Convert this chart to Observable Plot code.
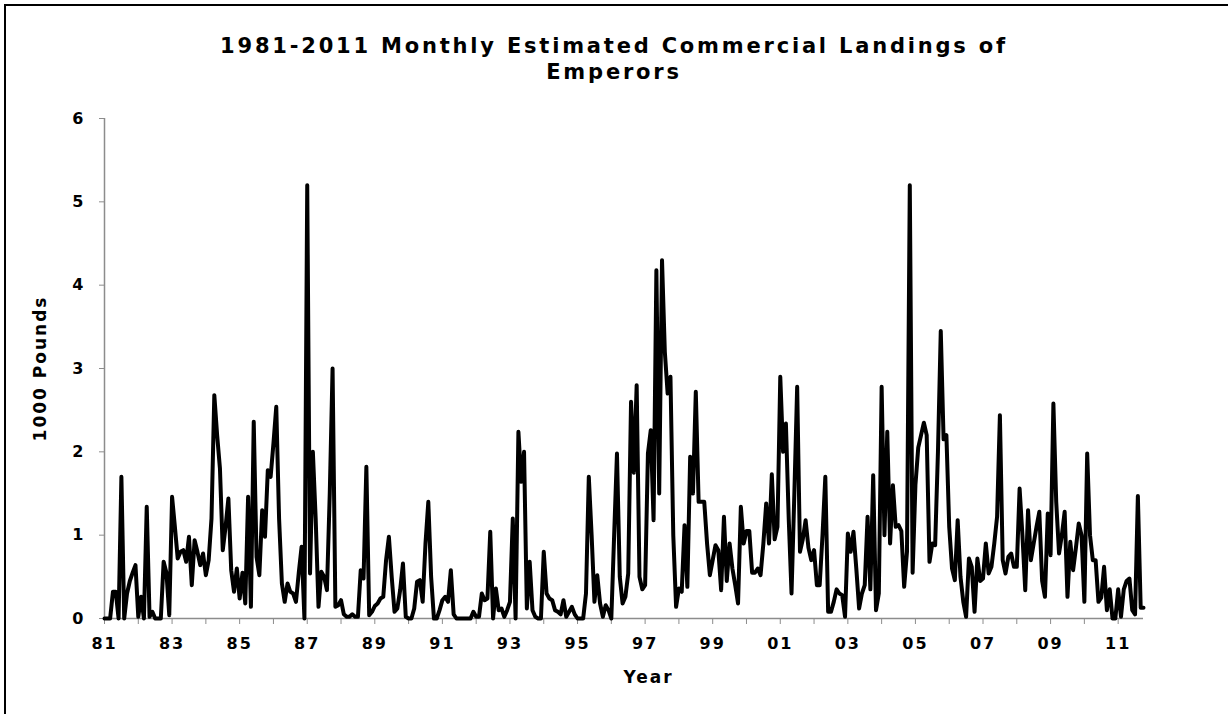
<!DOCTYPE html>
<html><head><meta charset="utf-8">
<script src="https://cdn.jsdelivr.net/npm/d3@7"></script>
<script src="https://cdn.jsdelivr.net/npm/@observablehq/plot@0.6"></script>
<style>
body{margin:0;background:#fff;font-family:"DejaVu Sans",Verdana,sans-serif;}
#chart{position:relative;width:1228px;height:714px;overflow:hidden;background:#fff;}
#bleft{position:absolute;left:4px;top:4px;width:2px;height:720px;background:#000;}
#btop{position:absolute;left:4px;top:4px;width:1240px;height:2px;background:#000;}
#title{position:absolute;left:0;top:33px;width:1228px;text-align:center;font-weight:bold;font-size:21px;line-height:26px;letter-spacing:2.8px;color:#000;}
#plot{position:absolute;left:0;top:90px;}
#plot svg text{letter-spacing:2px;}
#plot svg .axttl{letter-spacing:3px;}
</style></head>
<body>
<div id="chart"><div id="bleft"></div><div id="btop"></div>
<div id="title">1981-2011 Monthly Estimated Commercial Landings of<br>Emperors</div>
<div id="plot"></div></div>
<script>
const years = d3.range(1981, 2012);
const yTicks = [0, 1, 2, 3, 4, 5, 6];
const xLabel = "Year";
const yLabel = "1000 Pounds";
// monthly landings (1000 lb), Jan..Dec
const v1981 = [0, 0, 0, 0.32, 0.32, 0, 1.7, 0, 0.3, 0.45, 0.55, 0.64];
const v1982 = [0.02, 0.26, 0, 1.34, 0.02, 0.08, 0, 0, 0, 0.68, 0.55, 0.04];
const v1983 = [1.46, 1.1, 0.72, 0.8, 0.82, 0.68, 0.98, 0.4, 0.94, 0.8, 0.64, 0.78];
const v1984 = [0.52, 0.7, 1.2, 2.68, 2.2, 1.8, 0.82, 1.1, 1.44, 0.58, 0.32, 0.6];
const v1985 = [0.24, 0.55, 0.18, 1.46, 0.14, 2.36, 0.74, 0.52, 1.3, 0.98, 1.78, 1.7];
const v1986 = [2.1, 2.54, 1.2, 0.42, 0.2, 0.42, 0.32, 0.3, 0.2, 0.55, 0.86, 0];
const v1987 = [5.2, 0.54, 2.0, 1.2, 0.14, 0.56, 0.5, 0.34, 1.5, 3.0, 0.14, 0.16];
const v1988 = [0.22, 0.05, 0.02, 0.02, 0.05, 0.02, 0.02, 0.58, 0.48, 1.82, 0.04, 0.08];
const v1989 = [0.15, 0.18, 0.24, 0.26, 0.7, 0.98, 0.5, 0.08, 0.12, 0.34, 0.66, 0.02];
const v1990 = [0, 0, 0.12, 0.44, 0.46, 0.2, 0.9, 1.4, 0.5, 0, 0, 0.1];
const v1991 = [0.22, 0.26, 0.2, 0.58, 0.05, 0, 0, 0, 0, 0, 0, 0.08];
const v1992 = [0.02, 0.02, 0.3, 0.22, 0.24, 1.04, 0, 0.36, 0.1, 0.12, 0.02, 0.1];
const v1993 = [0.2, 1.2, 0, 2.24, 1.64, 2.0, 0.12, 0.68, 0.1, 0.02, 0, 0];
const v1994 = [0.8, 0.3, 0.24, 0.22, 0.1, 0.08, 0.05, 0.22, 0.02, 0.08, 0.14, 0.05];
const v1995 = [0, 0, 0, 0.3, 1.7, 1.0, 0.2, 0.52, 0.18, 0.02, 0.16, 0.1];
const v1996 = [0, 1.0, 1.98, 0.5, 0.18, 0.26, 0.54, 2.6, 1.75, 2.8, 0.5, 0.35];
const v1997 = [0.4, 1.98, 2.26, 1.18, 4.18, 1.5, 4.3, 3.2, 2.7, 2.9, 1.0, 0.14];
const v1998 = [0.36, 0.32, 1.12, 0.38, 1.94, 1.5, 2.72, 1.4, 1.4, 1.4, 0.9, 0.52];
const v1999 = [0.7, 0.88, 0.82, 0.34, 1.22, 0.45, 0.9, 0.6, 0.4, 0.18, 1.34, 0.9];
const v2000 = [1.05, 1.05, 0.55, 0.55, 0.6, 0.52, 0.9, 1.38, 0.9, 1.73, 0.95, 1.1];
const v2001 = [2.9, 2.0, 2.34, 1.2, 0.3, 1.5, 2.78, 0.8, 0.95, 1.18, 0.85, 0.7];
const v2002 = [0.82, 0.4, 0.4, 1.0, 1.7, 0.08, 0.08, 0.2, 0.35, 0.3, 0.28, 0.02];
const v2003 = [1.02, 0.8, 1.04, 0.6, 0.12, 0.3, 0.4, 1.22, 0.35, 1.72, 0.1, 0.3];
const v2004 = [2.78, 1.0, 2.24, 0.9, 1.6, 1.1, 1.12, 1.05, 0.38, 0.8, 5.2, 0.55];
const v2005 = [1.6, 2.05, 2.2, 2.35, 2.2, 0.68, 0.9, 0.88, 2.0, 3.45, 2.15, 2.2];
const v2006 = [1.1, 0.6, 0.46, 1.18, 0.5, 0.2, 0.02, 0.72, 0.62, 0.08, 0.72, 0.45];
const v2007 = [0.48, 0.9, 0.54, 0.62, 0.9, 1.22, 2.44, 0.7, 0.54, 0.74, 0.78, 0.62];
const v2008 = [0.62, 1.56, 1.0, 0.34, 1.3, 0.7, 0.9, 1.1, 1.28, 0.45, 0.26, 1.26];
const v2009 = [0.76, 2.58, 1.4, 0.78, 1.0, 1.28, 0.26, 0.92, 0.58, 0.85, 1.14, 1.0];
const v2010 = [0.2, 1.98, 1.0, 0.7, 0.7, 0.2, 0.25, 0.62, 0.1, 0.35, 0.0, 0.0];
const v2011 = [0.35, 0.02, 0.35, 0.45, 0.48, 0.1, 0.05, 1.47, 0.13, 0.13];

const series = [v1981, v1982, v1983, v1984, v1985, v1986, v1987, v1988, v1989, v1990,
  v1991, v1992, v1993, v1994, v1995, v1996, v1997, v1998, v1999, v2000,
  v2001, v2002, v2003, v2004, v2005, v2006, v2007, v2008, v2009, v2010, v2011];
const data = [];
years.forEach((yr, i) => series[i].forEach((v, mo) => data.push({t: yr + mo / 12, v})));
const lastT = data[data.length - 1].t;

const chart = Plot.plot({
  width: 1228,
  height: 624,
  marginTop: 28,
  marginBottom: 96,
  marginLeft: 104,
  marginRight: 85,
  style: {fontFamily: '"DejaVu Sans", Verdana, sans-serif', fontWeight: "bold", fontSize: "16px", color: "#000", background: "transparent"},
  x: {domain: [1981, lastT]},
  y: {domain: [0, 6]},
  marks: [
    Plot.ruleX([1981], {stroke: "#8c8c8c", strokeWidth: 1.5}),
    Plot.ruleY([0], {stroke: "#8c8c8c", strokeWidth: 1.5}),
    Plot.axisY({ticks: yTicks, tickSize: 5, tickPadding: 14, stroke: "#8c8c8c", fill: "#000", label: null, fontSize: 16,
      tickFormat: d3.format("d")}),
    Plot.axisX({ticks: years, tickSize: 6, tickPadding: 13, stroke: "#8c8c8c", fill: "#000", label: null, fontSize: 16,
      tickFormat: d => (d % 2 === 1 ? String(d).slice(2) : "")}),
    Plot.line(data, {x: "t", y: "v", stroke: "#000", strokeWidth: 4, strokeLinejoin: "round", strokeLinecap: "round"}),
    Plot.text([xLabel], {frameAnchor: "bottom-left", textAnchor: "middle", dx: 544, dy: 64, fontSize: 17, fill: "#000", className: "axttl"}),
    Plot.text([yLabel], {frameAnchor: "left", textAnchor: "middle", dx: -64, rotate: -90, fontSize: 17, fill: "#000", className: "axttl"})
  ]
});
document.getElementById("plot").appendChild(chart);
</script>
</body></html>
